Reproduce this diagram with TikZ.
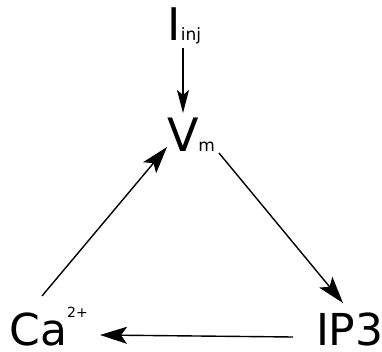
\documentclass[tikz,border=0pt]{standalone}
\usepackage{fontspec}
\setmainfont{DejaVu Sans}
\usetikzlibrary{arrows.meta}
\tikzset{
  lbl/.style={inner sep=0pt, outer sep=0pt, anchor=base west, font=\fontsize{44}{44}\selectfont},
  arr/.style={line width=1.4pt, -{Stealth[length=27pt, width=17pt, inset=6pt]}},
  arrsmall/.style={line width=1.4pt, -{Stealth[length=23pt, width=12pt, inset=5pt]}},
}
\newcommand{\subf}{\fontsize{17}{17}\selectfont}
\newcommand{\supf}{\fontsize{14}{14}\selectfont}
\begin{document}
\begin{tikzpicture}[x=1pt, y=-1pt]
\useasboundingbox (0,0) rectangle (382,352);
\node[lbl] (iinj) at (167.5,41) {{\fontsize{45}{45}\selectfont I}{\subf inj}};
\node[lbl] (vm) at (167,152) {{\fontsize{46}{46}\selectfont V}{\subf m}};
\node[lbl] (ca) at (9.5,345) {Ca\raisebox{28pt}{\supf 2+}};
\node[lbl] (ip3) at (316,345) {IP3};
\coordinate (a1s) at (183,48);
\coordinate (a1e) at (183,113);
\draw[arrsmall] (a1s) -- (a1e);
\coordinate (a2s) at (42,296);
\coordinate (a2e) at (167,147);
\draw[arr] (a2s) -- (a2e);
\coordinate (a3s) at (219,153);
\coordinate (a3e) at (343,303);
\draw[arr] (a3s) -- (a3e);
\coordinate (a4s) at (293,337);
\coordinate (a4e) at (100,335);
\draw[arr] (a4s) -- (a4e);
\end{tikzpicture}
\end{document}
